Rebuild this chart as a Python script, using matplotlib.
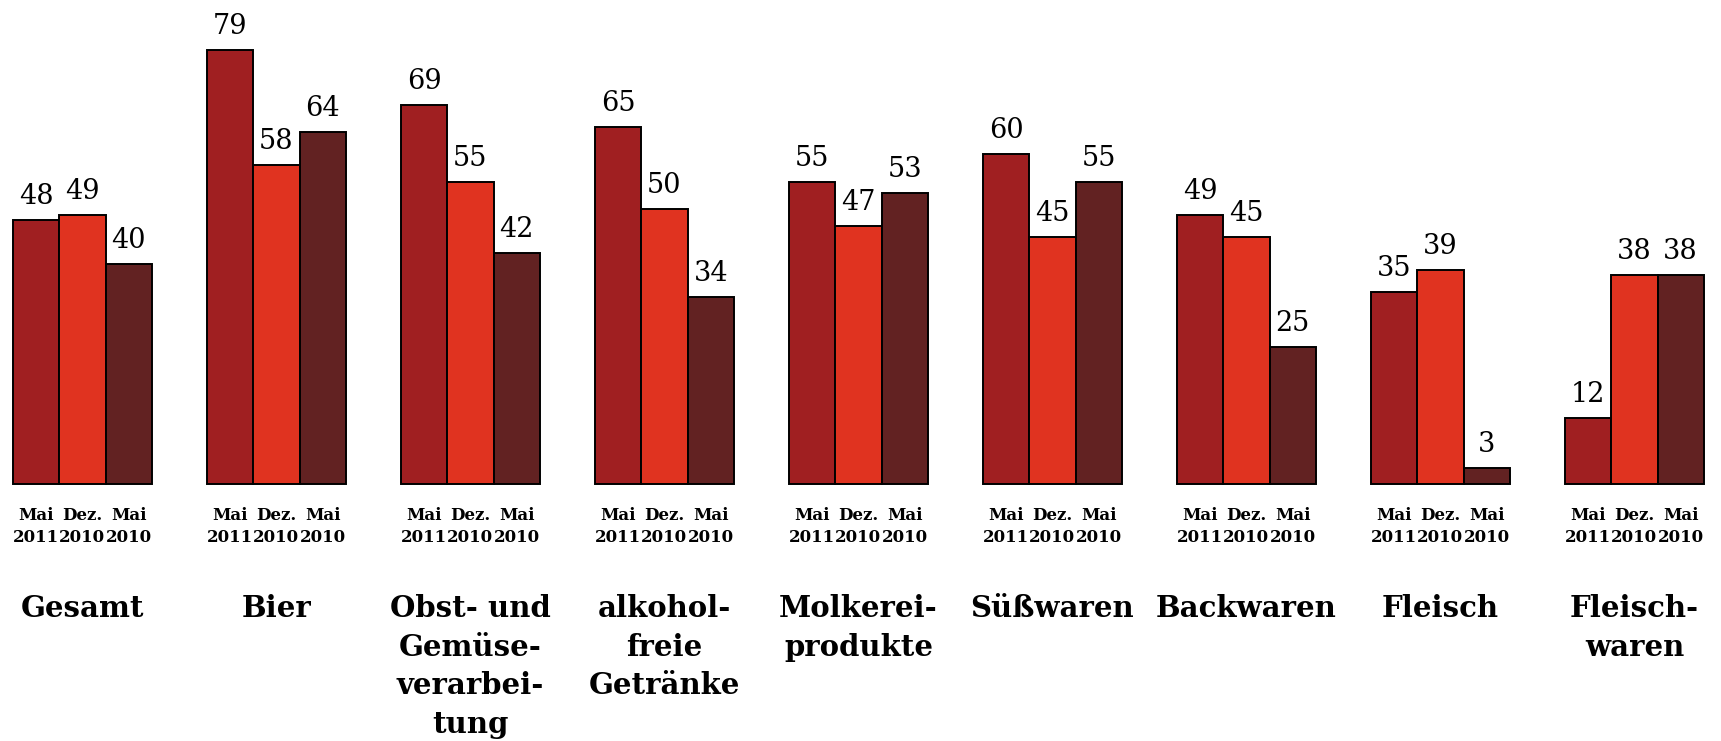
import numpy as np
import matplotlib
matplotlib.use("Agg")
import matplotlib.pyplot as plt

# survey results per branch, three survey waves each
categories = [
    "Gesamt",
    "Bier",
    "Obst- und\nGemüse-\nverarbei-\ntung",
    "alkohol-\nfreie\nGetränke",
    "Molkerei-\nprodukte",
    "Süßwaren",
    "Backwaren",
    "Fleisch",
    "Fleisch-\nwaren",
]
waves = ["Mai\n2011", "Dez.\n2010", "Mai\n2010"]
mai_2011 = [48, 79, 69, 65, 55, 60, 49, 35, 12]
dez_2010 = [49, 58, 55, 50, 47, 45, 45, 39, 38]
mai_2010 = [40, 64, 42, 34, 53, 55, 25, 3, 38]

COLORS = ["#A01F21", "#E03320", "#622222"]
FONT = "DejaVu Serif"
GROUP_STEP = 4.19  # distance between group starts, in bar widths


def main():
    fig = plt.figure(figsize=(17.21, 7.41), dpi=100)
    ax = fig.add_axes([0, 0, 1, 1])
    ax.set_axis_off()
    ax.set_xlim(-0.28, 36.89)
    ax.set_ylim(-46.7, 88.0)

    series = [mai_2011, dez_2010, mai_2010]
    starts = np.arange(len(categories)) * GROUP_STEP
    for k, (vals, color) in enumerate(zip(series, COLORS)):
        xs = starts + k + 0.5
        ax.bar(xs, vals, width=1.0, color=color,
               edgecolor="black", linewidth=1.4)
        for x, v in zip(xs, vals):
            ax.annotate(str(v), (x, v), xytext=(0, 7), textcoords="offset points",
                        ha="center", va="bottom", fontsize=19.5,
                        family=FONT, color="black")
            ax.text(x, -4.2, waves[k], ha="center", va="top", fontsize=12,
                    fontweight="bold", family=FONT, linespacing=1.4)

    for s, name in zip(starts, categories):
        ax.text(s + 1.5, -20.0, name, ha="center", va="top", fontsize=21,
                fontweight="bold", family=FONT, linespacing=1.42)

    fig.savefig("out.png", dpi=100)


if __name__ == "__main__":
    main()
